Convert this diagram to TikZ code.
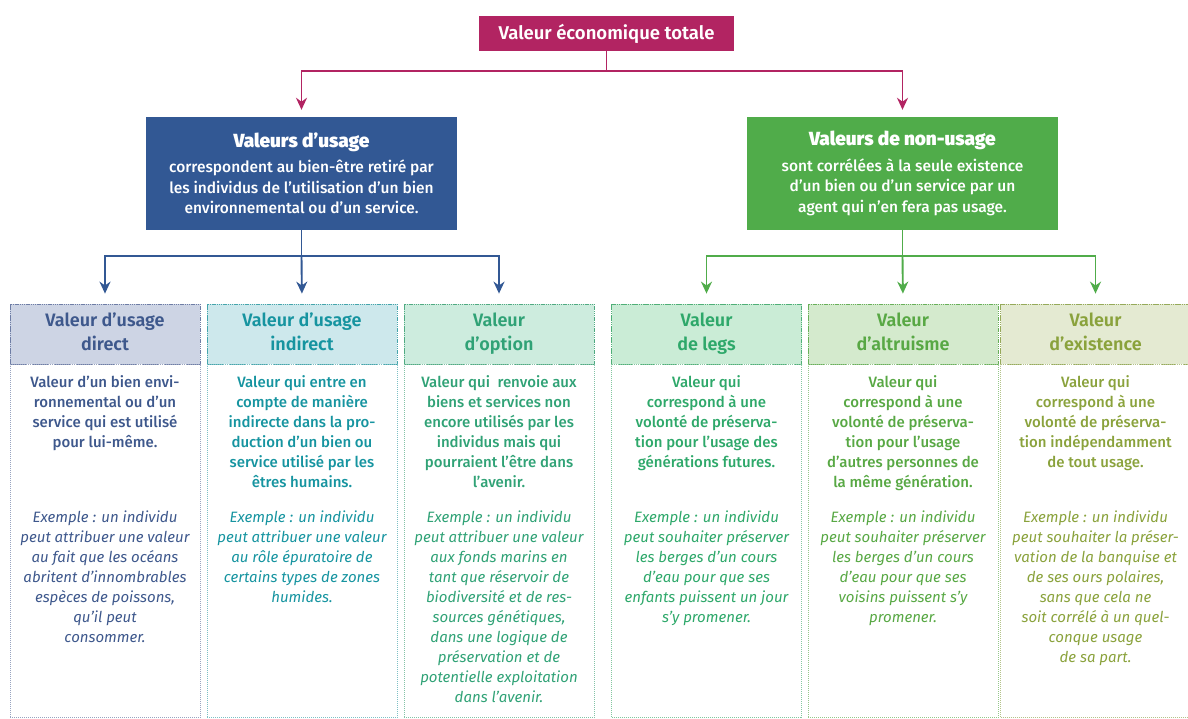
\documentclass[tikz,border=0pt]{standalone}
\usepackage{fontspec}
\setmainfont{Fira Sans}[BoldFont={Fira Sans Medium}]
\newfontfamily\headfont{Fira Sans SemiBold}
\usetikzlibrary{arrows.meta,positioning}

\definecolor{vmag}{RGB}{178,36,98}
\definecolor{vblue}{RGB}{50,88,148}
\definecolor{vgreen}{RGB}{80,172,74}
\definecolor{c1fill}{RGB}{205,212,228}
\definecolor{c1line}{RGB}{110,125,165}
\definecolor{c1txt}{RGB}{62,88,140}
\definecolor{c2fill}{RGB}{205,232,236}
\definecolor{c2line}{RGB}{70,165,172}
\definecolor{c2txt}{RGB}{22,148,160}
\definecolor{c3fill}{RGB}{205,236,222}
\definecolor{c3line}{RGB}{80,170,130}
\definecolor{c3txt}{RGB}{48,162,118}
\definecolor{c4fill}{RGB}{202,236,214}
\definecolor{c4line}{RGB}{80,175,120}
\definecolor{c4txt}{RGB}{46,168,106}
\definecolor{c5fill}{RGB}{212,234,205}
\definecolor{c5line}{RGB}{105,175,90}
\definecolor{c5txt}{RGB}{88,168,68}
\definecolor{c6fill}{RGB}{228,234,210}
\definecolor{c6line}{RGB}{150,170,90}
\definecolor{c6txt}{RGB}{138,162,60}

\begin{document}
\begin{tikzpicture}[x=1pt,y=-1pt,
  topbox/.style={fill=vmag,text=white,font=\fontsize{18.5}{22}\selectfont\headfont,
    minimum width=255pt,minimum height=35pt,inner sep=0pt},
  bigbox/.style={fill=#1,text=white,align=center,minimum width=311pt,
    minimum height=113pt,inner sep=0pt,font=\fontsize{15.5}{20.5}\selectfont\bfseries},
  head/.style={fill=#1fill,draw=#1line,text=#1txt,line width=0.8pt,
    dash pattern=on 1.5pt off 0.7pt,minimum width=190pt,minimum height=60pt,
    inner sep=0pt,align=center,font=\fontsize{18}{24}\selectfont\headfont},
  body/.style={draw=#1line!70,line width=0.8pt,dash pattern=on 1pt off 1pt,
    minimum width=190pt,minimum height=353pt,inner sep=0pt},
  desc/.style={text=#1txt,align=center,anchor=north,inner sep=0pt,
    font=\fontsize{15}{20}\selectfont\bfseries},
  expl/.style={text=#1txt,align=center,anchor=north,inner sep=0pt,
    font=\fontsize{15}{20}\selectfont\itshape},
  link/.style={draw=#1,line width=1.9pt,-{Stealth[length=12pt,width=11pt]}},
  stem/.style={draw=#1,line width=1.9pt}]
\useasboundingbox (0,0) rectangle (1188,718);

% niveau 1 et 2
\node[topbox] (vet) at (606.5,33.5) {Valeur économique totale};
\node[bigbox=vblue] (usage) at (301.5,173.5)
  {{\fontsize{19}{22}\selectfont\headfont Valeurs d’usage}\\[5pt]
   correspondent au bien-être retiré par\\
   les individus de l’utilisation d’un bien\\
   environnemental ou d’un service.};
\node[bigbox=vgreen] (nonusage) at (902.5,173.5)
  {{\fontsize{19}{22}\selectfont\headfont Valeurs de non-usage}\\[5pt]
   sont corrélées à la seule existence\\
   d’un bien ou d’un service par un\\
   agent qui n’en fera pas usage.};

% en-tetes des colonnes
\node[head=c1] (h1) at (105,334) {Valeur d’usage\\direct\vphantom{g}};
\node[head=c2] (h2) at (302,334) {Valeur d’usage\\indirect\vphantom{g}};
\node[head=c3] (h3) at (499,334) {Valeur\\d’option\vphantom{g}};
\node[head=c4] (h4) at (706.5,334) {Valeur\\de legs\vphantom{g}};
\node[head=c5] (h5) at (903,334) {Valeur\\d’altruisme\vphantom{g}};
\node[head=c6] (h6) at (1095.5,334) {Valeur\\d’existence\vphantom{g}};

\node[body=c1] (b1) [below=0pt of h1] {};
\node[body=c2] (b2) [below=0pt of h2] {};
\node[body=c3] (b3) [below=0pt of h3] {};
\node[body=c4] (b4) [below=0pt of h4] {};
\node[body=c5] (b5) [below=0pt of h5] {};
\node[body=c6] (b6) [below=0pt of h6] {};

% definitions
\node[desc=c1] (d1) at (105,375) {Valeur d’un bien envi-\\ronnemental ou d’un\\service qui est utilisé\\pour lui-même.};
\node[desc=c2] (d2) at (302,375) {Valeur qui entre en\\compte de manière\\indirecte dans la pro-\\duction d’un bien ou\\service utilisé par les\\êtres humains.};
\node[desc=c3] (d3) at (499,375) {Valeur qui\ \ renvoie aux\\biens et services non\\encore utilisés par les\\individus mais qui\\pourraient l’être dans\\l’avenir.};
\node[desc=c4] (d4) at (706.5,375) {Valeur qui\\correspond à une\\volonté de préserva-\\tion pour l’usage des\\générations futures.};
\node[desc=c5] (d5) at (903,375) {Valeur qui\\correspond à une\\volonté de préserva-\\tion pour l’usage\\d’autres personnes de\\la même génération.};
\node[desc=c6] (d6) at (1095.5,375) {Valeur qui\\correspond à une\\volonté de préserva-\\tion indépendamment\\de tout usage.};

% exemples
\node[expl=c1] (e1) at (105,511) {Exemple : un individu\\peut attribuer une valeur\\au fait que les océans\\abritent d’innombrables\\espèces de poissons,\\qu’il peut\\consommer.};
\node[expl=c2] (e2) at (302,511) {Exemple : un individu\\peut attribuer une valeur\\au rôle épuratoire de\\certains types de zones\\humides.};
\node[expl=c3] (e3) at (499,511) {Exemple : un individu\\peut attribuer une valeur\\aux fonds marins en\\tant que réservoir de\\biodiversité et de res-\\sources génétiques,\\dans une logique de\\préservation et de\\potentielle exploitation\\dans l’avenir.};
\node[expl=c4] (e4) at (706.5,511) {Exemple : un individu\\peut souhaiter préserver\\les berges d’un cours\\d’eau pour que ses\\enfants puissent un jour\\s’y promener.};
\node[expl=c5] (e5) at (903,511) {Exemple : un individu\\peut souhaiter préserver\\les berges d’un cours\\d’eau pour que ses\\voisins puissent s’y\\promener.};
\node[expl=c6] (e6) at (1095.5,511) {Exemple : un individu\\peut souhaiter la préser-\\vation de la banquise et\\de ses ours polaires,\\sans que cela ne\\soit corrélé à un quel-\\conque usage\\de sa part.};

% fleches
\coordinate (j0) at (606.5,71);
\coordinate (j1) at (301.5,256);
\coordinate (j2) at (902.5,256);

\draw[stem=vmag] (vet) -- (j0);
\draw[link=vmag,shorten >=7pt] (j0) -| (usage.north);
\draw[link=vmag,shorten >=7pt] (j0) -| (nonusage.north);

\draw[stem=vblue] (usage) -- (j1);
\draw[link=vblue,shorten >=10pt] (j1) -| (h1.north);
\draw[link=vblue,shorten >=10pt] (j1) -- (h2.north);
\draw[link=vblue,shorten >=10pt] (j1) -| (h3.north);

\draw[stem=vgreen] (nonusage) -- (j2);
\draw[link=vgreen,shorten >=10pt] (j2) -| (h4.north);
\draw[link=vgreen,shorten >=10pt] (j2) -- (h5.north);
\draw[link=vgreen,shorten >=10pt] (j2) -| (h6.north);

\end{tikzpicture}
\end{document}
